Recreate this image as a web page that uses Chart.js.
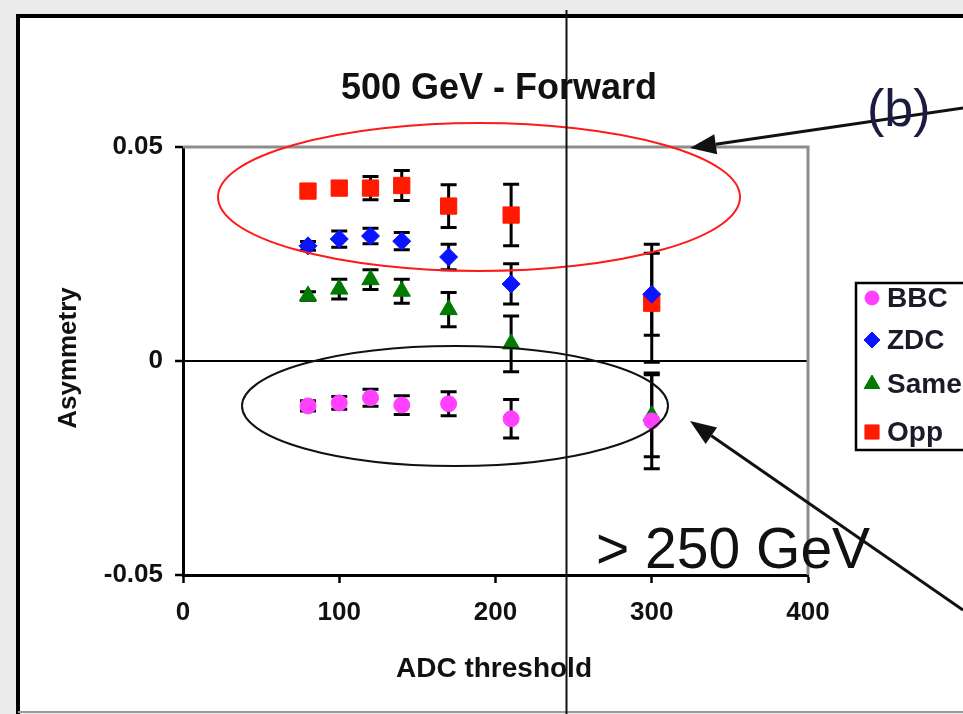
<!DOCTYPE html>
<html>
<head>
<meta charset="utf-8">
<script src="https://cdn.jsdelivr.net/npm/chart.js@4.4.1/dist/chart.umd.min.js"></script>
<style>
  html, body { margin: 0; padding: 0; background: #ececec; }
  #wrap { width: 963px; height: 714px; }
</style>
</head>
<body>
<div id="wrap"><canvas id="chart" width="963" height="714"></canvas></div>
<script>
// ADC threshold values where each point sits
const thresholds = [80, 100, 120, 140, 170, 210, 300];

// asymmetry per detector combination, with error bar half-widths
const bbc     = [-0.0105, -0.0098, -0.0086, -0.0103, -0.0100, -0.0135, -0.0140];
const bbcErr  = [0.0012, 0.0015, 0.0020, 0.0022, 0.0028, 0.0045, 0.0112];
const zdc     = [0.0269, 0.0285, 0.0292, 0.0280, 0.0243, 0.0180, 0.0156];
const zdcErr  = [0.0010, 0.0019, 0.0018, 0.0020, 0.0030, 0.0047, 0.0096];
const same    = [0.0152, 0.0168, 0.0190, 0.0163, 0.0120, 0.0040, -0.0128];
const sameErr = [0.0010, 0.0023, 0.0023, 0.0028, 0.0040, 0.0065, 0.0096];
const opp     = [0.0397, 0.0404, 0.0404, 0.0410, 0.0362, 0.0341, 0.0135];
const oppErr  = [0.0010, 0.0015, 0.0027, 0.0035, 0.0050, 0.0072, 0.0138];

const seriesNames = ['BBC', 'ZDC', 'Same', 'Opp'];
const xTicks = [0, 100, 200, 300, 400];
const yTicks = [-0.05, 0, 0.05];

const FONT = '"Liberation Sans", Arial, sans-serif';

function toPoints(vals) {
    return thresholds.map((x, i) => ({ x: x, y: vals[i] }));
}

// page frame behind the chart
const framePlugin = {
    id: 'frame',
    beforeDraw(chart) {
        const ctx = chart.ctx;
        ctx.save();
        ctx.fillStyle = '#ececec';
        ctx.fillRect(0, 0, chart.width, chart.height);
        ctx.fillStyle = '#ffffff';
        ctx.fillRect(18, 16, chart.width, 696);
        ctx.strokeStyle = '#000';
        ctx.lineWidth = 4;
        ctx.beginPath();
        ctx.moveTo(18, 714);
        ctx.lineTo(18, 16);
        ctx.lineTo(chart.width, 16);
        ctx.stroke();
        ctx.strokeStyle = '#9a9a9a';
        ctx.lineWidth = 2;
        ctx.beginPath();
        ctx.moveTo(18, 712);
        ctx.lineTo(chart.width, 712);
        ctx.stroke();
        ctx.restore();
    }
};

// error bars, drawn under the markers
const errorBarPlugin = {
    id: 'errorBars',
    beforeDatasetsDraw(chart) {
        const ctx = chart.ctx;
        const xs = chart.scales.x, ys = chart.scales.y;
        const area = chart.chartArea;
        ctx.save();
        // grey plot border on top and right
        ctx.strokeStyle = '#8c8c8c';
        ctx.lineWidth = 3;
        ctx.beginPath();
        ctx.moveTo(area.left, area.top);
        ctx.lineTo(area.right, area.top);
        ctx.lineTo(area.right, area.bottom);
        ctx.stroke();

        ctx.strokeStyle = '#000';
        ctx.lineWidth = 3;
        chart.data.datasets.forEach(ds => {
            ds.data.forEach((p, i) => {
                const e = ds.errors[i];
                const px = xs.getPixelForValue(p.x);
                const top = ys.getPixelForValue(p.y + e);
                const bot = ys.getPixelForValue(p.y - e);
                ctx.beginPath();
                ctx.moveTo(px, top);
                ctx.lineTo(px, bot);
                ctx.moveTo(px - 8, top);
                ctx.lineTo(px + 8, top);
                ctx.moveTo(px - 8, bot);
                ctx.lineTo(px + 8, bot);
                ctx.stroke();
            });
        });
        ctx.restore();
    }
};

function arrow(ctx, x1, y1, x2, y2) {
    const ang = Math.atan2(y2 - y1, x2 - x1);
    const len = 26, half = 10;
    const bx = x2 - Math.cos(ang) * len, by = y2 - Math.sin(ang) * len;
    ctx.beginPath();
    ctx.moveTo(x1, y1);
    ctx.lineTo(bx, by);
    ctx.stroke();
    ctx.beginPath();
    ctx.moveTo(x2, y2);
    ctx.lineTo(bx + Math.sin(ang) * half, by - Math.cos(ang) * half);
    ctx.lineTo(bx - Math.sin(ang) * half, by + Math.cos(ang) * half);
    ctx.closePath();
    ctx.fill();
}

// titles, legend and slide annotations
const annotatePlugin = {
    id: 'annotate',
    afterDraw(chart) {
        const ctx = chart.ctx;
        ctx.save();

        ctx.fillStyle = '#111';
        ctx.textAlign = 'center';
        ctx.textBaseline = 'alphabetic';
        ctx.font = 'bold 36px ' + FONT;
        ctx.fillText('500 GeV - Forward', 499, 99);

        ctx.font = 'bold 28px ' + FONT;
        ctx.fillText('ADC threshold', 494, 677);

        ctx.save();
        ctx.translate(76, 358);
        ctx.rotate(-Math.PI / 2);
        ctx.font = 'bold 26px ' + FONT;
        ctx.fillText('Asymmetry', 0, 0);
        ctx.restore();

        // legend (cut off by the slide edge)
        ctx.strokeStyle = '#000';
        ctx.lineWidth = 2.5;
        ctx.fillStyle = '#fff';
        ctx.fillRect(856, 283, 200, 167);
        ctx.strokeRect(856, 283, 200, 167);
        const rows = [298, 340, 384, 432];
        chart.data.datasets.forEach((ds, i) => {
            ctx.fillStyle = ds.backgroundColor;
            ctx.strokeStyle = ds.backgroundColor;
            ctx.lineWidth = 1;
            Chart.helpers.drawPoint(ctx, {
                pointStyle: ds.pointStyle,
                radius: ds.legendRadius,
                borderWidth: 1,
                rotation: 0
            }, 872, rows[i]);
            ctx.fillStyle = '#1a1a2a';
            ctx.textAlign = 'left';
            ctx.textBaseline = 'middle';
            ctx.font = 'bold 28px ' + FONT;
            ctx.fillText(seriesNames[i], 887, rows[i] + 1);
        });

        // ellipses around the two groups
        ctx.lineWidth = 2;
        ctx.strokeStyle = '#ff1a1a';
        ctx.beginPath();
        ctx.ellipse(479, 197, 261, 74, 0, 0, Math.PI * 2);
        ctx.stroke();
        ctx.strokeStyle = '#111';
        ctx.beginPath();
        ctx.ellipse(455, 406, 213, 60, 0, 0, Math.PI * 2);
        ctx.stroke();

        // arrows
        ctx.strokeStyle = '#111';
        ctx.fillStyle = '#111';
        ctx.lineWidth = 3;
        arrow(ctx, 963, 108, 690, 148);
        arrow(ctx, 963, 610, 690, 421);

        ctx.fillStyle = '#1c1c40';
        ctx.textAlign = 'left';
        ctx.textBaseline = 'alphabetic';
        ctx.font = '52px ' + FONT;
        ctx.fillText('(b)', 867, 126);

        ctx.fillStyle = '#111';
        ctx.font = '57px ' + FONT;
        ctx.fillText('> 250 GeV', 596, 568);

        // vertical guide line across the slide
        ctx.strokeStyle = '#111';
        ctx.lineWidth = 2;
        ctx.beginPath();
        ctx.moveTo(566.5, 10);
        ctx.lineTo(566.5, 714);
        ctx.stroke();

        ctx.restore();
    }
};

const tickFont = { family: FONT, size: 26, weight: 'bold' };

new Chart(document.getElementById('chart').getContext('2d'), {
    type: 'scatter',
    data: {
        datasets: [
            { label: seriesNames[0], data: toPoints(bbc), errors: bbcErr, pointStyle: 'circle', pointRadius: 8, legendRadius: 7, backgroundColor: '#ff40ff', borderColor: '#ff40ff' },
            { label: seriesNames[1], data: toPoints(zdc), errors: zdcErr, pointStyle: 'rectRot', pointRadius: 9, legendRadius: 8, backgroundColor: '#0a14ff', borderColor: '#0a14ff' },
            { label: seriesNames[2], data: toPoints(same), errors: sameErr, pointStyle: 'triangle', pointRadius: 10, legendRadius: 9, backgroundColor: '#007a00', borderColor: '#007a00' },
            { label: seriesNames[3], data: toPoints(opp), errors: oppErr, pointStyle: 'rect', pointRadius: 11.5, legendRadius: 10, backgroundColor: '#ff1a00', borderColor: '#ff1a00' }
        ]
    },
    options: {
        responsive: false,
        animation: false,
        layout: { padding: { left: 0, top: 147, right: 155, bottom: 0 } },
        plugins: {
            legend: { display: false },
            tooltip: { enabled: false },
            title: { display: false }
        },
        scales: {
            x: {
                type: 'linear',
                min: 0,
                max: 400,
                afterBuildTicks: s => { s.ticks = xTicks.map(v => ({ value: v })); },
                afterFit: s => { s.height = 139; },
                grid: { drawOnChartArea: false, tickLength: 8, tickColor: '#000', tickWidth: 2.5 },
                border: { color: '#000', width: 3 },
                ticks: { font: tickFont, color: '#111', padding: 14, maxRotation: 0 }
            },
            y: {
                min: -0.05,
                max: 0.05,
                afterBuildTicks: s => { s.ticks = yTicks.map(v => ({ value: v })); },
                afterFit: s => { s.width = 183; },
                grid: {
                    color: c => (c.tick && c.tick.value === 0) ? '#000' : 'rgba(0,0,0,0)',
                    lineWidth: 2,
                    tickLength: 8,
                    tickColor: '#000',
                    tickWidth: 2.5
                },
                border: { color: '#000', width: 3 },
                ticks: {
                    font: tickFont,
                    color: '#111',
                    padding: 12,
                    callback: v => v === 0 ? '0' : v.toFixed(2)
                }
            }
        }
    },
    plugins: [framePlugin, errorBarPlugin, annotatePlugin]
});
</script>
</body>
</html>
